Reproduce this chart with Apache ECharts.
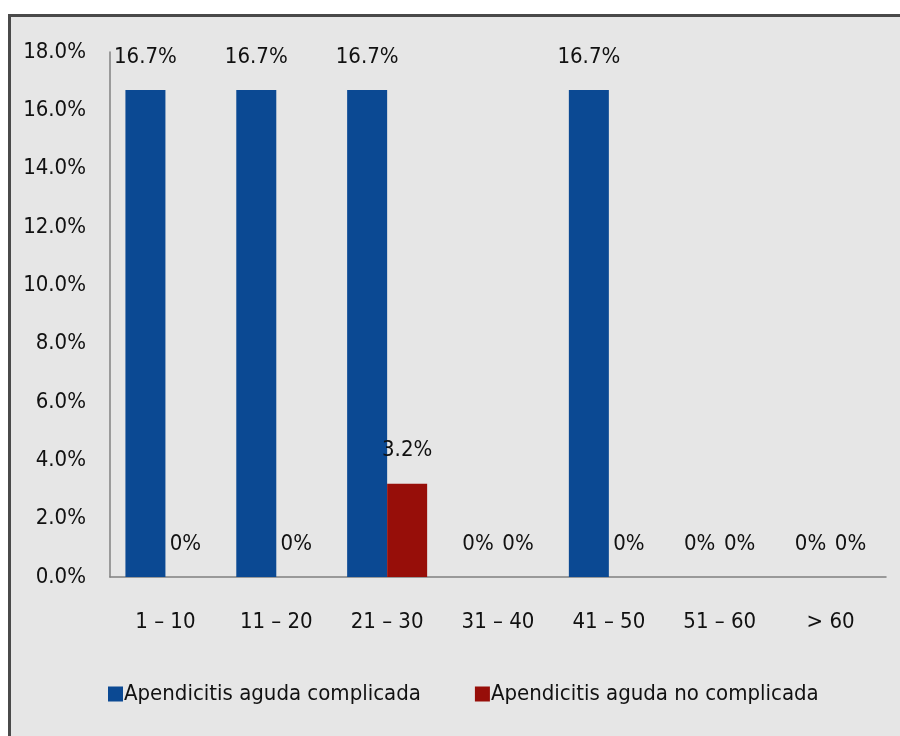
<!DOCTYPE html>
<html>
<head>
<meta charset="utf-8">
<script src="https://cdn.jsdelivr.net/npm/echarts@6/dist/echarts.min.js"></script>
<style>
    html, body { margin: 0; padding: 0; background: #ffffff; }
    #frame {
        position: absolute; left: 8px; top: 14px; width: 892px; height: 722px;
        box-sizing: border-box; background: #e6e6e6;
        border-top: 3px solid #4a4a4a; border-left: 3px solid #4a4a4a;
    }
    #main { position: absolute; left: 0; top: 0; width: 900px; height: 736px; }
</style>
</head>
<body>
<div id="frame"></div>
<div id="main"></div>
<script>
// rangos de edad
const categories = ['1 – 10', '11 – 20', '21 – 30', '31 – 40', '41 – 50', '51 – 60', '> 60'];
const complicada = [16.7, 16.7, 16.7, 0, 16.7, 0, 0];
const noComplicada = [0, 0, 3.2, 0, 0, 0, 0];
const seriesNames = ['Apendicitis aguda complicada', 'Apendicitis aguda no complicada'];

const FONT = "'Liberation Sans Narrow', 'DejaVu Sans Condensed', sans-serif";
const SIZE = 22;
const chart = echarts.init(document.getElementById('main'));

function pct(v) {
    return v === 0 ? '0%' : v.toFixed(1) + '%';
}

const labelStyle = {
    show: true,
    position: 'top',
    distance: 22,
    fontFamily: FONT,
    fontSize: SIZE,
    color: '#111',
    formatter: function (p) { return pct(p.value); }
};

chart.setOption({
    backgroundColor: 'transparent',
    animation: false,
    textStyle: { fontFamily: FONT },
    grid: { left: 110, right: 14, top: 52, bottom: 159 },
    legend: {
        left: 103,
        top: 678,
        width: 790,
        itemWidth: 15,
        itemHeight: 15,
        itemGap: 54,
        icon: 'rect',
        textStyle: { fontFamily: FONT, fontSize: SIZE, color: '#111', padding: [0, 0, 0, -4] },
        data: seriesNames
    },
    xAxis: {
        type: 'category',
        data: categories,
        axisLine: { lineStyle: { color: '#808080', width: 1.5 } },
        axisTick: { show: false },
        axisLabel: { interval: 0, fontFamily: FONT, fontSize: SIZE, color: '#111', margin: 34 }
    },
    yAxis: {
        type: 'value',
        min: 0,
        max: 18,
        interval: 2,
        splitLine: { show: false },
        axisLine: { show: true, lineStyle: { color: '#808080', width: 1.5 } },
        axisTick: { show: false },
        axisLabel: {
            fontFamily: FONT, fontSize: SIZE, color: '#111', margin: 24,
            formatter: function (v) { return v.toFixed(1) + '%'; }
        }
    },
    series: [
        {
            name: seriesNames[0],
            type: 'bar',
            data: complicada,
            barWidth: 40,
            barGap: '0%',
            itemStyle: { color: '#0b4993' },
            label: labelStyle
        },
        {
            name: seriesNames[1],
            type: 'bar',
            data: noComplicada,
            barWidth: 40,
            itemStyle: { color: '#970e09' },
            label: labelStyle
        }
    ]
});
</script>
</body>
</html>
